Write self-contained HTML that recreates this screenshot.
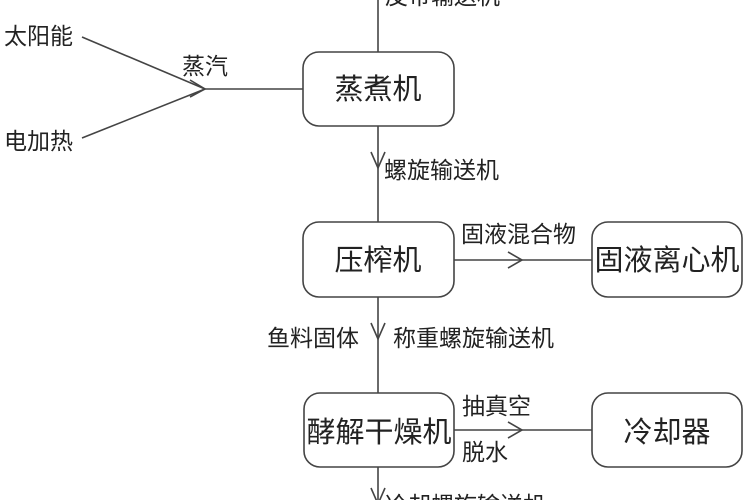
<!DOCTYPE html>
<html><head><meta charset="utf-8"><style>
html,body{margin:0;padding:0;background:#fff;width:750px;height:500px;overflow:hidden}
svg{display:block}
text{font-family:"Liberation Sans","Noto Sans CJK SC",sans-serif;fill:#222}
.b{font-size:29px}
.l{font-size:23px}
</style></head><body>
<svg width="750" height="500" viewBox="0 0 750 500">
<g stroke="#444" stroke-width="1.6" fill="none">
<line x1="378" y1="0" x2="378" y2="52"/>
<line x1="378" y1="126" x2="378" y2="222"/>
<line x1="378" y1="297" x2="378" y2="393"/>
<line x1="378" y1="467" x2="378" y2="500"/>
<line x1="82" y1="37" x2="205" y2="89"/>
<line x1="82" y1="138" x2="205" y2="89"/>
<line x1="205" y1="89" x2="303" y2="89"/>
<polyline points="190,80 205,89 190,97"/>
<line x1="454" y1="260" x2="592" y2="260"/>
<polyline points="508,252 522,260 508,268"/>
<line x1="454" y1="430" x2="592" y2="430"/>
<polyline points="508,422 522,430 508,438"/>
<polyline points="371,152 378,168 385,152"/>
<polyline points="371,323 378,339 385,323"/>
<polyline points="371,488 378,504 385,488"/>
<rect x="303" y="52" width="151" height="74" rx="16"/>
<rect x="303" y="222" width="151" height="75" rx="16"/>
<rect x="592" y="222" width="150" height="75" rx="16"/>
<rect x="304" y="393" width="150" height="74" rx="16"/>
<rect x="592" y="393" width="150" height="74" rx="16"/>
</g>
<text class="l" x="385" y="4">皮带输送机</text>
<text class="l" x="4" y="44">太阳能</text>
<text class="l" x="4" y="149">电加热</text>
<text class="l" x="182" y="74">蒸汽</text>
<text class="b" x="378" y="99" text-anchor="middle">蒸煮机</text>
<text class="l" x="384" y="178">螺旋输送机</text>
<text class="l" x="461" y="242">固液混合物</text>
<text class="b" x="378" y="270" text-anchor="middle">压榨机</text>
<text class="b" x="667" y="270" text-anchor="middle">固液离心机</text>
<text class="l" x="267" y="346">鱼料固体</text>
<text class="l" x="393" y="346">称重螺旋输送机</text>
<text class="l" x="462" y="414">抽真空</text>
<text class="l" x="462" y="460">脱水</text>
<text class="b" x="379" y="442" text-anchor="middle">酵解干燥机</text>
<text class="b" x="667" y="442" text-anchor="middle">冷却器</text>
<text class="l" x="385" y="513">冷却螺旋输送机</text>
</svg>
</body></html>
